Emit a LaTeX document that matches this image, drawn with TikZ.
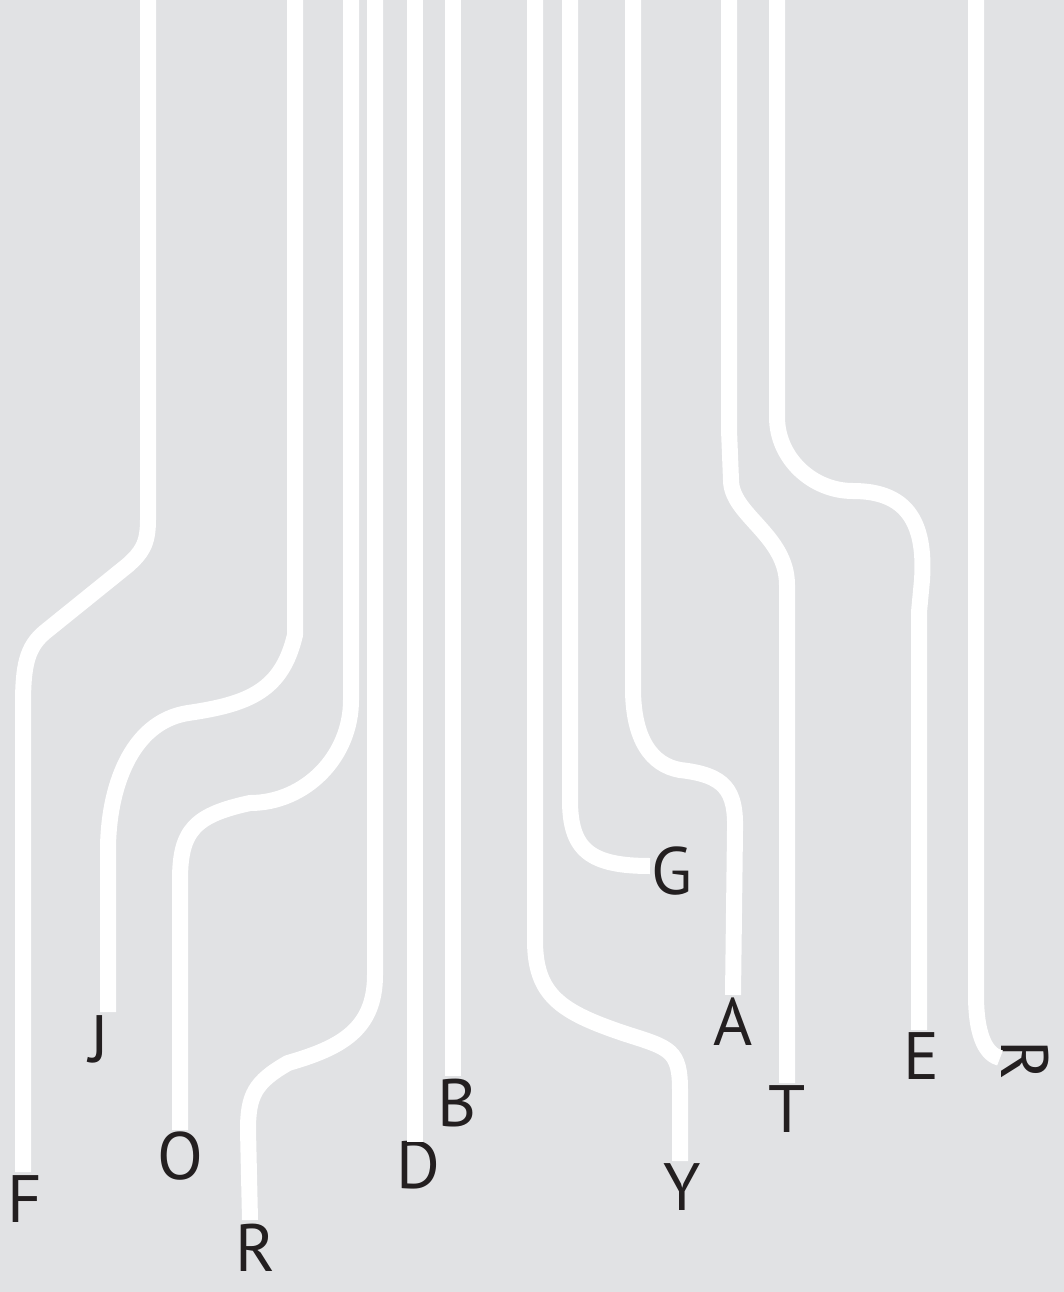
\documentclass[tikz,border=0pt]{standalone}
\usepackage{fontspec}
\setmainfont{PT Sans}
\definecolor{bg}{HTML}{E1E2E4}
\definecolor{ink}{HTML}{231F20}
\begin{document}
\begin{tikzpicture}[x=1pt,y=-1pt,
  wire/.style={draw=white,line width=16pt,line cap=butt,line join=round},
  lab/.style={text=ink,font=\fontsize{67}{67}\selectfont,inner sep=0pt,anchor=base}]
\fill[bg] (0,0) rectangle (1064,1292);
\useasboundingbox (0,0) rectangle (1064,1292);
% top ends
\coordinate (tF) at (148,0);
\coordinate (tJ) at (295,0);
\coordinate (tO) at (351,0);
\coordinate (tR1) at (375,0);
\coordinate (tD) at (415,0);
\coordinate (tB) at (453,0);
\coordinate (tY) at (535,0);
\coordinate (tG) at (570,0);
\coordinate (tA) at (633,0);
\coordinate (tT) at (729,0);
\coordinate (tE) at (777,0);
\coordinate (tR2) at (976,0);
% bottom ends
\coordinate (eF) at (23,1172);
\coordinate (eJ) at (108,1012);
\coordinate (eO) at (180,1130);
\coordinate (eR1) at (250,1220);
\coordinate (eD) at (415,1142);
\coordinate (eB) at (453,1076);
\coordinate (eY) at (680,1161);
\coordinate (eG) at (650,866);
\coordinate (eA) at (733,995);
\coordinate (eT) at (787,1083);
\coordinate (eE) at (919,1030);
\coordinate (eR2) at (1000,1058);
% labels
\node[lab] (lF) at (25,1222) {F};
\node[lab] (lJ) at (99,1062) {J};
\node[lab] (lO) at (180,1179) {O};
\node[lab] (lR1) at (255,1271) {R};
\node[lab] (lD) at (418,1188) {D};
\node[lab] (lB) at (457,1126) {B};
\node[lab] (lY) at (682,1210) {Y};
\node[lab] (lG) at (672,894) {G};
\node[lab] (lA) at (733,1045) {A};
\node[lab] (lT) at (787,1132) {T};
\node[lab] (lE) at (921,1079) {E};
\node[lab,rotate=-90] (lR2) at (1001,1060) {R};
% wires
\draw[wire] (tF) -- (148,520) .. controls (148,545) and (141,553) .. (128,565) -- (45,632) .. controls (27,647) and (23,665) .. (23,705) -- (eF);
\draw[wire] (tJ) -- (295,635) .. controls (282,690) and (250,704) .. (188,713) .. controls (130,722) and (108,790) .. (108,850) -- (eJ);
\draw[wire] (tO) -- (351,700) .. controls (351,757) and (305,803) .. (250,803) .. controls (195,815) and (180,830) .. (180,880) -- (eO);
\draw[wire] (tR1) -- (375,975) .. controls (375,1030) and (340,1048) .. (288,1063) .. controls (255,1082) and (248,1095) .. (248,1130) -- (eR1);
\draw[wire] (tD) -- (eD);
\draw[wire] (tB) -- (eB);
\draw[wire] (tY) -- (535,940) .. controls (535,995) and (560,1012) .. (626,1034) .. controls (670,1048) and (680,1050) .. (680,1090) -- (eY);
\draw[wire] (tG) -- (570,800) .. controls (570,850) and (590,866) .. (eG);
\draw[wire] (tA) -- (633,688) .. controls (633,740) and (652,765) .. (680,770) .. controls (725,775) and (736,790) .. (735,830) -- (eA);
\draw[wire] (tT) -- (729,430) -- (731,480) .. controls (731,515) and (787,535) .. (787,585) -- (eT);
\draw[wire] (tE) -- (777,417) .. controls (777,458) and (812,491) .. (853,491) .. controls (905,491) and (926,520) .. (922,580) -- (919,612) -- (eE);
\draw[wire] (tR2) -- (976,995) .. controls (976,1040) and (988,1055) .. (eR2);
\end{tikzpicture}
\end{document}
